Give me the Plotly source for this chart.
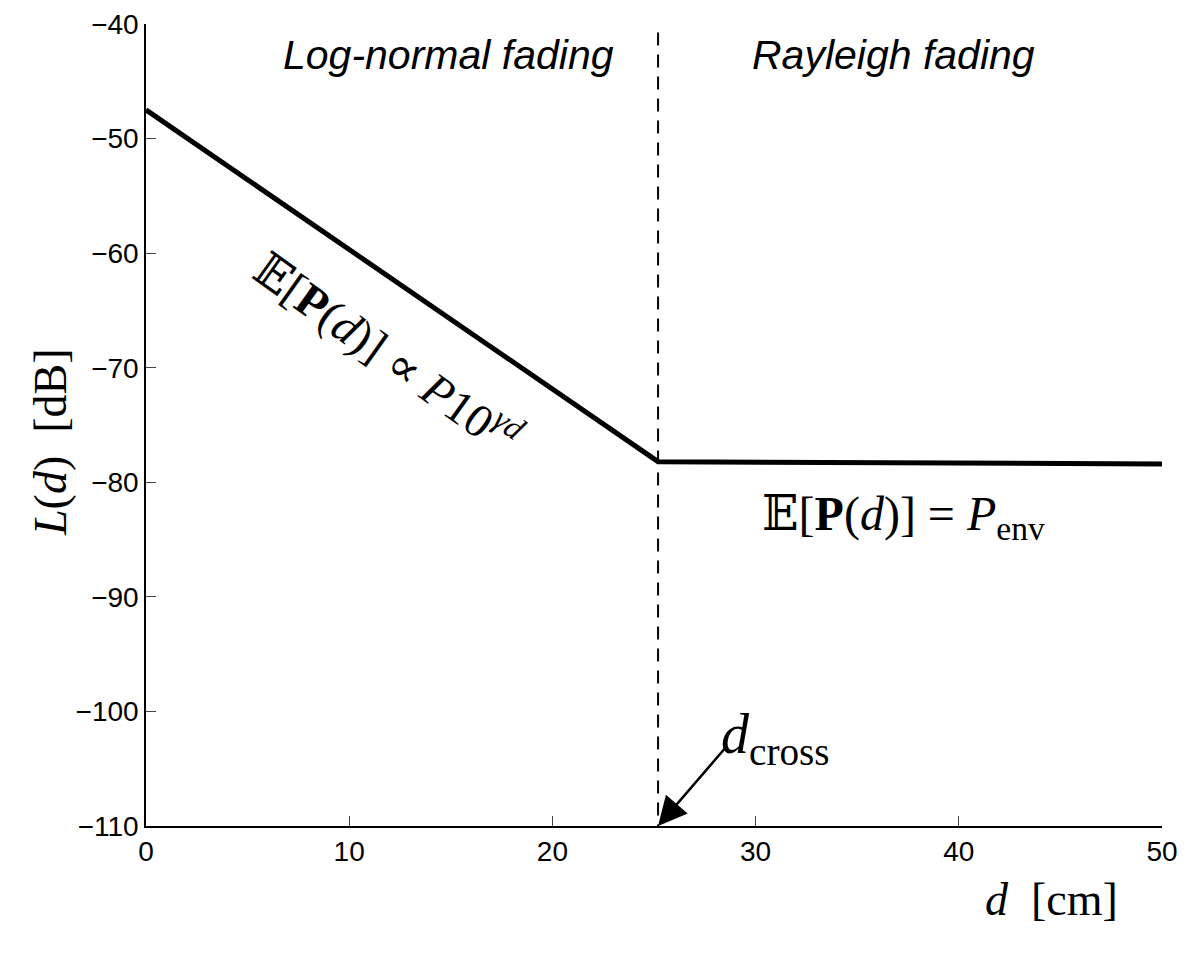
import plotly.graph_objects as go

# loss curve knots (d in cm, L in dB)
d_knots = [0, 25.2, 50]
loss_db = [-47.5, -78.2, -78.4]

d_cross = 25.2
y_range = [-110, -40]
x_ticks = [0, 10, 20, 30, 40, 50]
y_ticks = [-110, -100, -90, -80, -70, -60, -50, -40]

serif = "Liberation Serif, DejaVu Serif, serif"
sans = "Liberation Sans, Arial, sans-serif"

# page body adds an 8px offset, so margins are set relative to that
L, R, T, B = 138, 46, 16, 137
W, H = 1200, 955

fig = go.Figure()
fig.add_trace(go.Scatter(x=d_knots, y=loss_db, mode="lines",
                         line=dict(color="black", width=5), showlegend=False))
fig.add_trace(go.Scatter(x=[d_cross, d_cross], y=[y_range[0] - 1, y_range[1]], mode="lines",
                         line=dict(color="black", width=2, dash="13px,9px"),
                         showlegend=False, cliponaxis=False))

fig.add_annotation(x=14.9, y=-42.7, text="<i>Log-normal fading</i>", showarrow=False,
                   font=dict(family=sans, size=41, color="black"))
fig.add_annotation(x=36.8, y=-42.7, text="<i>Rayleigh fading</i>", showarrow=False,
                   font=dict(family=sans, size=41, color="black"))

fig.add_annotation(x=11.9, y=-68.6, textangle=35.5,
                   text="𝔼[<b>P</b>(<i>d</i>)] ∝ <i>P</i>10<sup><i>γd</i></sup>",
                   showarrow=False, font=dict(family=serif, size=47, color="black"))
fig.add_annotation(x=37.3, y=-83.0,
                   text="𝔼[<b>P</b>(<i>d</i>)] = <i>P</i><sub>env</sub>",
                   showarrow=False, font=dict(family=serif, size=48, color="black"))

fig.add_annotation(x=d_cross, y=-110, ax=28.6, ay=-103.0, axref="x", ayref="y",
                   text="", showarrow=True, arrowhead=2, arrowsize=2.3, arrowwidth=2.5,
                   arrowcolor="black")
fig.add_annotation(x=28.2, y=-102.3, xanchor="left",
                   text="<i>d</i><sub>cross</sub>", showarrow=False,
                   font=dict(family=serif, size=56, color="black"))

# axis titles as annotations, given in screen pixels and converted below
fig.add_annotation(x=1051, y=900, xref="paper", yref="paper", text="<i>d</i>  [cm]",
                   xanchor="center", yanchor="middle",
                   showarrow=False, font=dict(family=serif, size=46, color="black"))
fig.add_annotation(x=50, y=442, xref="paper", yref="paper", text="<i>L</i>(<i>d</i>)  [dB]",
                   xanchor="center", yanchor="middle",
                   textangle=-90, showarrow=False, font=dict(family=serif, size=46, color="black"))

fig.update_xaxes(range=[0, 50], tickvals=x_ticks, ticks="inside", ticklen=10,
                 showline=True, linecolor="black", linewidth=1.5, showgrid=False,
                 zeroline=False, automargin=False,
                 tickfont=dict(family=sans, size=28, color="black"))
fig.update_yaxes(range=y_range, tickvals=y_ticks, ticks="inside", ticklen=10,
                 showline=True, linecolor="black", linewidth=1.5, showgrid=False,
                 zeroline=False, automargin=False,
                 tickfont=dict(family=sans, size=28, color="black"))

fig.update_layout(width=W, height=H, plot_bgcolor="white", paper_bgcolor="white",
                  margin=dict(l=L, r=R, t=T, b=B))

pw, ph = W - L - R, H - T - B
for ann in fig.layout.annotations:
    if ann.xref == "paper":
        ann.x = (ann.x - 8 - L) / pw
        ann.y = (H - B - (ann.y - 8)) / ph

fig.write_html("out.html")
